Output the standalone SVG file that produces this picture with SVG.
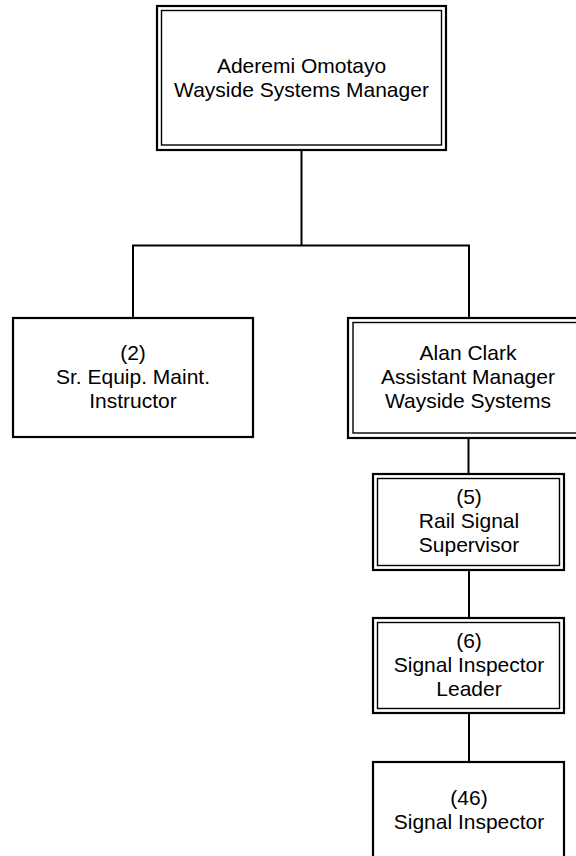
<svg xmlns="http://www.w3.org/2000/svg" width="576" height="856" viewBox="0 0 576 856">
<style>
.o{fill:#fff;stroke:#000;stroke-width:2.2}
.i{fill:none;stroke:#000;stroke-width:1.4}
.t{font-family:"Liberation Sans",Arial,sans-serif;font-size:21px;fill:#000;text-anchor:middle}
.c{fill:none;stroke:#000;stroke-width:2}
</style>
<rect width="576" height="856" fill="#fff"/>
<g id="connectors">
<path class="c" d="M301.5 150V245.5M133 245.5H469M133 244.5V318M469 244.5V318"/>
<path class="c" d="M468.5 438V474M469 570V618M469 713V762"/>
</g>
<g id="n-omotayo">
<rect class="o" x="157" y="6" width="289" height="144"/>
<rect class="i" x="161.5" y="10.5" width="280" height="134.5"/>
<text class="t" x="301.5" y="73">Aderemi Omotayo</text>
<text class="t" x="301.5" y="97">Wayside Systems Manager</text>
</g>
<g id="n-instructor">
<rect class="o" x="13" y="318" width="240" height="119"/>
<text class="t" x="133" y="360">(2)</text>
<text class="t" x="133" y="384">Sr. Equip. Maint.</text>
<text class="t" x="133" y="408">Instructor</text>
</g>
<g id="n-clark">
<rect class="o" x="348" y="318" width="250" height="120"/>
<rect class="i" x="353" y="322.5" width="240" height="110.5"/>
<text class="t" x="468" y="360">Alan Clark</text>
<text class="t" x="468" y="384">Assistant Manager</text>
<text class="t" x="468" y="408">Wayside Systems</text>
</g>
<g id="n-supervisor">
<rect class="o" x="373" y="474" width="191" height="96"/>
<rect class="i" x="377.5" y="478.5" width="182" height="87"/>
<text class="t" x="469" y="504">(5)</text>
<text class="t" x="469" y="528">Rail Signal</text>
<text class="t" x="469" y="552">Supervisor</text>
</g>
<g id="n-leader">
<rect class="o" x="373" y="618" width="191" height="95"/>
<rect class="i" x="377.5" y="622.5" width="182" height="86"/>
<text class="t" x="469" y="648">(6)</text>
<text class="t" x="469" y="672">Signal Inspector</text>
<text class="t" x="469" y="696">Leader</text>
</g>
<g id="n-inspector">
<rect class="o" x="373" y="762" width="191" height="100"/>
<text class="t" x="469" y="805">(46)</text>
<text class="t" x="469" y="829">Signal Inspector</text>
</g>
</svg>
